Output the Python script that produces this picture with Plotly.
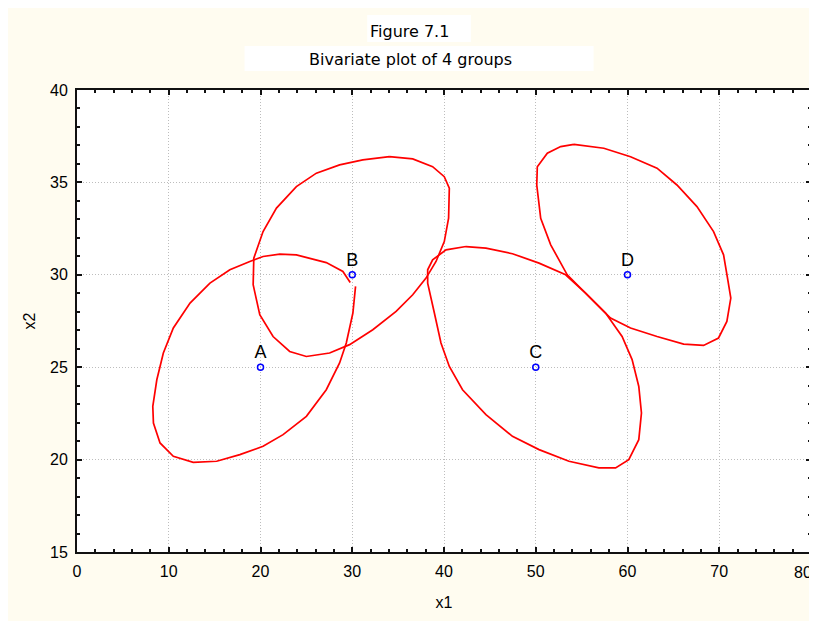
import plotly.graph_objects as go

# Group means
groups = ["A", "B", "C", "D"]
mean_x1 = [20, 30, 50, 60]
mean_x2 = [25, 30, 25, 30]

# Ellipse outlines
ellA_x = [29.78, 28.98, 27.17, 23.91, 22.10, 20.28, 18.84, 16.66, 14.49, 12.32, 10.50, 9.41, 8.70, 8.26,
          8.33, 9.05, 10.50, 12.67, 15.22, 17.75, 20.28, 22.46, 25.0, 27.17, 28.62, 29.35, 30.07, 30.36]
ellA_y = [29.58, 30.18, 30.66, 31.08, 31.12, 30.99, 30.72, 30.27, 29.55, 28.47, 27.12, 25.77, 24.32, 22.88,
          21.98, 20.90, 20.18, 19.85, 19.91, 20.27, 20.72, 21.35, 22.34, 23.78, 25.23, 26.31, 27.93, 29.37]

ellB_x = [34.05, 36.59, 38.76, 40.03, 40.58, 40.50, 40.03, 39.13, 38.04, 36.59, 34.78, 32.24, 29.71, 27.53,
          25.0, 23.18, 21.37, 19.92, 19.20, 19.27, 20.28, 21.74, 23.91, 26.09, 28.62, 31.15, 34.05]
ellB_y = [36.39, 36.27, 35.85, 35.31, 34.69, 33.06, 31.80, 30.72, 29.82, 28.92, 28.02, 27.03, 26.22, 25.77,
          25.58, 25.85, 26.66, 27.84, 29.46, 30.90, 32.34, 33.61, 34.77, 35.50, 35.95, 36.22, 36.39]

ellC_x = [42.39, 44.57, 47.46, 50.36, 53.26, 55.43, 57.61, 59.41, 60.50, 61.23, 61.52, 61.23, 60.14, 58.70,
          56.88, 53.62, 50.36, 47.46, 44.57, 42.02, 40.58, 39.67, 38.95, 38.22, 38.22, 38.76, 40.22, 42.39]
ellC_y = [31.53, 31.44, 31.14, 30.63, 30.00, 29.01, 27.93, 26.66, 25.41, 23.96, 22.52, 21.08, 20.00, 19.55,
          19.55, 19.91, 20.54, 21.26, 22.43, 23.78, 25.04, 26.31, 27.93, 29.55, 30.27, 30.81, 31.35, 31.53]

ellD_x = [54.16, 57.42, 60.33, 63.22, 65.39, 67.57, 69.38, 70.47, 70.90, 71.26, 70.83, 69.92, 68.29, 66.12,
          63.22, 60.33, 58.15, 55.98, 53.43, 51.63, 50.54, 50.11, 50.17, 51.26, 52.72, 54.16]
ellD_y = [37.06, 36.85, 36.39, 35.77, 34.86, 33.69, 32.34, 31.08, 29.82, 28.74, 27.48, 26.58, 26.18, 26.25,
          26.66, 27.12, 27.66, 28.74, 30.00, 31.62, 33.06, 34.86, 35.85, 36.58, 36.94, 37.06]

x_ticks = [0, 10, 20, 30, 40, 50, 60, 70, 80]
y_ticks = [15, 20, 25, 30, 35, 40]

FONT = "Liberation Sans, Arial, sans-serif"
TFONT = "DejaVu Sans, sans-serif"

fig = go.Figure()
for ex, ey in [(ellA_x, ellA_y), (ellB_x, ellB_y), (ellC_x, ellC_y), (ellD_x, ellD_y)]:
    fig.add_trace(go.Scatter(x=ex, y=ey, mode="lines",
                             line=dict(color="#ff0000", width=1.7), hoverinfo="skip"))

fig.add_trace(go.Scatter(x=mean_x1, y=mean_x2, mode="markers+text", text=groups,
                         textposition="top center",
                         textfont=dict(family=FONT, size=18, color="black"),
                         marker=dict(symbol="circle-open", size=6, color="#0000ff",
                                     line=dict(width=1.5, color="#0000ff"))))

axis_common = dict(showline=True, linecolor="#111111", linewidth=2, mirror="ticks",
                   ticks="inside", ticklen=5, tickcolor="#111111", tickwidth=2,
                   showgrid=True, gridcolor="#bdbdbd", griddash="1px,2px", gridwidth=1,
                   zeroline=False,
                   tickfont=dict(family=FONT, size=16, color="black"))

# last x tick label would overflow the page; it is drawn as a right-anchored annotation instead
fig.update_xaxes(range=[0, 80], tickvals=x_ticks[:-1], ticktext=[str(v) for v in x_ticks[:-1]],
                 minor=dict(dtick=2, ticks="inside", ticklen=3, tickcolor="#111111", tickwidth=2,
                            showgrid=False),
                 ticklabelstandoff=4,
                 title=dict(text="x1", font=dict(family=FONT, size=16, color="black"), standoff=18),
                 **axis_common)
fig.update_yaxes(range=[15, 40], tickvals=y_ticks, ticktext=[str(v) for v in y_ticks],
                 minor=dict(dtick=1, ticks="inside", ticklen=3, tickcolor="#111111", tickwidth=2,
                            showgrid=False),
                 ticklabelstandoff=4,
                 title=dict(text="x2", font=dict(family=FONT, size=16, color="black"), standoff=10),
                 **axis_common)

# plot area in page pixels: x 77..813, y 90..552 (page has 8px body offset)
def px_x(p):
    return (p - 77) / 736

def px_y(p):
    return (552 - p) / 462

fig.update_layout(
    width=809, height=613,
    margin=dict(l=69, r=4, t=82, b=69),
    paper_bgcolor="#fffcf0", plot_bgcolor="white",
    showlegend=False,
    shapes=[
        dict(type="rect", xref="paper", yref="paper", x0=px_x(368), x1=px_x(472),
             y0=px_y(42), y1=px_y(15), fillcolor="white", line=dict(width=0), layer="below"),
        dict(type="rect", xref="paper", yref="paper", x0=px_x(245), x1=px_x(595),
             y0=px_y(71), y1=px_y(46), fillcolor="white", line=dict(width=0), layer="below"),
    ],
    annotations=[
        dict(text="Figure 7.1", x=px_x(410), xref="paper", y=px_y(32), yref="paper",
             showarrow=False, font=dict(family=TFONT, size=16, color="black"),
             xanchor="center", yanchor="middle"),
        dict(text="Bivariate plot of 4 groups", x=px_x(411), xref="paper", y=px_y(59), yref="paper",
             showarrow=False, font=dict(family=TFONT, size=16, color="black"),
             xanchor="center", yanchor="middle"),
        dict(text=str(x_ticks[-1]), x=x_ticks[-1], xref="x", y=px_y(572), yref="paper",
             showarrow=False, font=dict(family=FONT, size=16, color="black"),
             xanchor="right", yanchor="middle", xshift=3),
    ],
)

fig.write_html("out.html")
